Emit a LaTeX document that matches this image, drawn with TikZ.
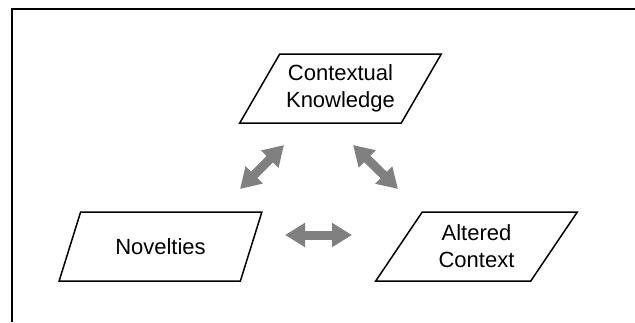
\documentclass[tikz,border=0pt]{standalone}
\usepackage{fontspec}
\setmainfont{Liberation Sans}
\usetikzlibrary{shapes.geometric,arrows.meta}
\definecolor{arrowgray}{RGB}{128,128,128}
\tikzset{
  para/.style={draw, line width=0.75pt, trapezium, trapezium left angle=53,
    trapezium right angle=127, trapezium stretches=true,
    minimum width=101.5pt, minimum height=34.5pt, inner sep=0pt,
    align=center, font=\fontsize{11}{13.5}\selectfont},
  link/.style={line width=4.5pt, draw=arrowgray,
    {Triangle[length=10pt,width=11.5pt]}-{Triangle[length=10pt,width=11.5pt]}}
}
\begin{document}
\begin{tikzpicture}[x=0.5pt,y=-0.5pt]
        \useasboundingbox (0,0) rectangle (635,322);
        \draw[line width=1pt] (12,322) -- (12,9) -- (635,9);
        \node[para] (ck) at (340.5,88.5) {Contextual\\Knowledge};
        \node[para] (nov) at (160.5,246.5) {Novelties};
        \node[para] (ac) at (476.5,246.5) {Altered\\Context};
        \coordinate (l1) at (240,189);
        \coordinate (l2) at (284,145);
        \coordinate (r1) at (353,145);
        \coordinate (r2) at (398,189);
        \coordinate (m1) at (285,235);
        \coordinate (m2) at (352,235);
        \draw[link] (l1) -- (l2);
        \draw[link] (r1) -- (r2);
        \draw[link] (m1) -- (m2);
\end{tikzpicture}
\end{document}
